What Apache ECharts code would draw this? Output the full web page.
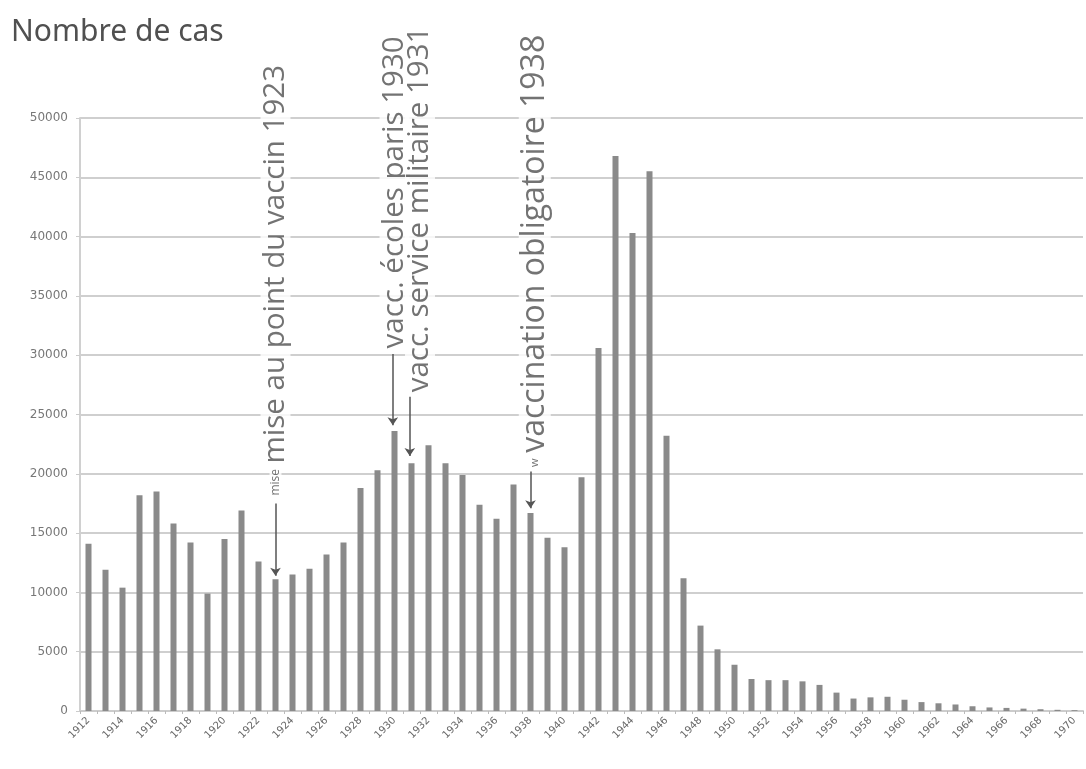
<!DOCTYPE html>
<html>
<head>
<meta charset="utf-8">
<script src="https://cdn.jsdelivr.net/npm/echarts@6/dist/echarts.min.js"></script>
<style>
html,body{margin:0;padding:0;background:#fff;}
#chart{width:1086px;height:769px;}
</style>
</head>
<body>
<div id="chart"></div>
<script>
// ---- data ----
var years = ['1912','1913','1914','1915','1916','1917','1918','1919','1920','1921',
  '1922','1923','1924','1925','1926','1927','1928','1929','1930','1931',
  '1932','1933','1934','1935','1936','1937','1938','1939','1940','1941',
  '1942','1943','1944','1945','1946','1947','1948','1949','1950','1951',
  '1952','1953','1954','1955','1956','1957','1958','1959','1960','1961',
  '1962','1963','1964','1965','1966','1967','1968','1969','1970'];
var cases = [14100,11900,10400,18200,18500,15800,14200,9900,14500,16900,
  12600,11100,11500,12000,13200,14200,18800,20300,23600,20900,
  22400,20900,19900,17400,16200,19100,16700,14600,13800,19700,
  30600,46800,40300,45500,23200,11200,7200,5200,3900,2700,
  2600,2600,2500,2200,1550,1050,1150,1200,950,750,
  650,550,400,300,260,200,150,100,70];

// annotations: year position, value at text foot, text, font size
var noteX     = [1923, 1923, 1930, 1931.5, 1938.25, 1938.25];
var noteY     = [20700, 18000, 30400, 26700, 21600, 20400];
var noteText  = ['mise au point du vaccin 1923', 'mise', 'vacc. écoles paris 1930',
                 'vacc. service militaire 1931', 'vaccination obligatoire 1938', 'w'];
var noteSize  = [29.5, 12, 29.5, 29.5, 32, 11];
// arrows: year, from value, to value
var arrowX    = [1923, 1929.9, 1930.9, 1938];
var arrowFrom = [17500, 30100, 26500, 20200];
var arrowTo   = [11400, 24100, 21500, 17100];

var chart = echarts.init(document.getElementById('chart'));
var notes = noteX.map(function(x, i){
  return {
    value: [x, noteY[i]],
    label: {formatter: noteText[i], fontSize: noteSize[i]}
  };
});
var arrows = arrowX.map(function(x, i){
  return {coords: [[x, arrowFrom[i]], [x, arrowTo[i]]]};
});

chart.setOption({
  animation: false,
  backgroundColor: '#fff',
  title: {
    text: 'Nombre de cas', left: 6, top: 12,
    textStyle: {fontFamily: 'Noto Sans', fontSize: 30, fontWeight: 'normal', color: '#505050'}
  },
  grid: {left: 80, right: 3, top: 118, bottom: 58},
  xAxis: [{
    type: 'category', data: years, boundaryGap: true,
    axisLine: {lineStyle: {color: '#cccccc', width: 2}},
    axisTick: {show: true, interval: 0, length: 3, lineStyle: {color: '#bbbbbb'}},
    axisLabel: {interval: 1, rotate: 45, fontSize: 10, fontFamily: 'DejaVu Sans',
      color: '#666', margin: 8},
    splitLine: {show: false}
  }, {
    type: 'value', min: 1911.5, max: 1970.5, show: false
  }],
  yAxis: {
    type: 'value', min: 0, max: 50000, interval: 5000,
    axisLine: {show: true, lineStyle: {color: '#d0d0d0', width: 2}},
    axisTick: {show: true, length: 4, lineStyle: {color: '#cccccc'}},
    axisLabel: {fontSize: 12, fontFamily: 'DejaVu Sans', color: '#777', margin: 12,
      formatter: function(v){ return String(v); }},
    splitLine: {lineStyle: {color: '#cfcfcf', width: 2}}
  },
  series: [{
    type: 'bar', data: cases, barWidth: 6,
    itemStyle: {color: '#8a8a8a'}
  }, {
    type: 'lines', coordinateSystem: 'cartesian2d', xAxisIndex: 1, yAxisIndex: 0,
    symbol: ['none', 'arrow'], symbolSize: 8,
    lineStyle: {color: '#555', width: 1.5, opacity: 1},
    data: arrows, z: 4
  }, {
    type: 'scatter', xAxisIndex: 1, yAxisIndex: 0, symbolSize: 0,
    data: notes, z: 5,
    label: {
      show: true, position: 'inside', rotate: 90, align: 'left', verticalAlign: 'middle',
      fontFamily: 'Open Sans', color: '#505050', backgroundColor: '#fff', padding: [0, 2]
    }
  }]
});
</script>
</body>
</html>
